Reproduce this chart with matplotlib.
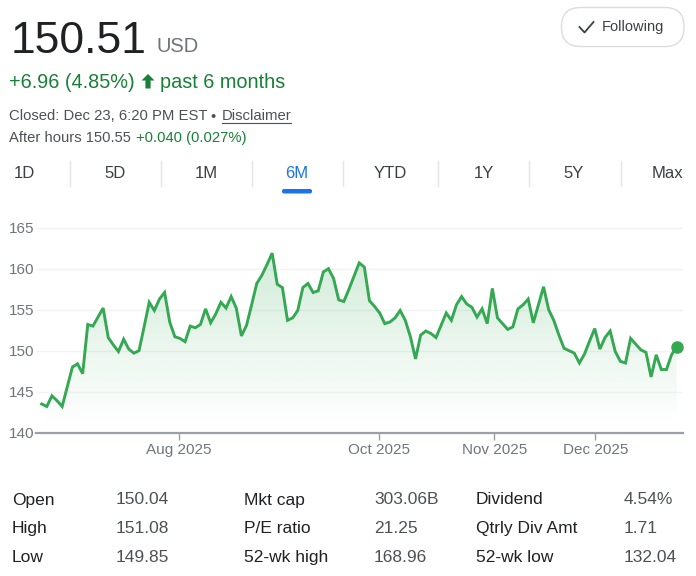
import numpy as np
import matplotlib
matplotlib.use('Agg')
import matplotlib.pyplot as plt
from matplotlib.patches import FancyBboxPatch, Polygon
from matplotlib.colors import LinearSegmentedColormap

plt.rcParams['font.family'] = ['Liberation Sans', 'DejaVu Sans']

# daily closes, Jun 23 -> Dec 23 2025
prices = [
    143.5, 143.2, 144.5, 143.9, 143.2, 145.6, 148.0, 148.4, 147.2, 153.2,
    153.0, 154.1, 155.2, 151.6, 150.7, 149.9, 151.4, 150.2, 149.7, 150.0,
    152.9, 155.9, 154.9, 156.3, 157.1, 153.5, 151.7, 151.5, 151.1, 153.0,
    152.8, 153.2, 155.1, 153.4, 154.5, 155.9, 155.2, 156.6, 155.2, 151.8,
    153.1, 155.6, 158.2, 159.2, 160.5, 161.9, 158.1, 157.7, 153.7, 154.0,
    154.9, 157.7, 158.2, 157.1, 157.3, 159.6, 160.0, 158.8, 156.2, 156.0,
    157.5, 159.1, 160.7, 160.2, 156.1, 155.4, 154.6, 153.3, 153.5, 154.0,
    154.9, 153.7, 151.7, 149.0, 151.9, 152.4, 152.1, 151.6, 153.1, 154.6,
    153.7, 155.6, 156.6, 155.7, 155.3, 154.1, 155.1, 153.3, 157.6, 154.0,
    153.3, 152.6, 152.9, 155.1, 155.6, 156.3, 153.4, 155.6, 157.8, 155.0,
    153.7, 151.9, 150.3, 150.0, 149.7, 148.5, 149.6, 151.2, 152.7, 150.2,
    151.6, 152.4, 149.9, 148.7, 148.5, 151.5, 150.8, 150.1, 149.8, 146.8,
    149.5, 147.7, 147.7, 149.5, 150.51,
]
tick_pos = [26.8, 65.9, 88.4, 108.1]
tick_labels = ['Aug 2025', 'Oct 2025', 'Nov 2025', 'Dec 2025']
y_ticks = [140, 145, 150, 155, 160, 165]

tabs = ['1D', '5D', '1M', '6M', 'YTD', '1Y', '5Y', 'Max']
active_tab = '6M'

stat_labels = [['Open', 'High', 'Low'],
               ['Mkt cap', 'P/E ratio', '52-wk high'],
               ['Dividend', 'Qtrly Div Amt', '52-wk low']]
stat_values = [['150.04', '151.08', '149.85'],
               ['303.06B', '21.25', '168.96'],
               ['4.54%', '1.71', '132.04']]

GREEN_TXT = '#188038'
LINE = '#34a853'
GREY = '#70757a'
DARK = '#202124'

W, H = 696, 576
fig = plt.figure(figsize=(W / 100, H / 100), dpi=100)

# overlay in pixel coordinates for the page furniture
ov = fig.add_axes([0, 0, 1, 1])
ov.set_xlim(0, W)
ov.set_ylim(H, 0)
ov.axis('off')

ov.text(11, 52.7, '150.51', fontsize=32, color=DARK, va='baseline')
ov.text(157, 52.5, 'USD', fontsize=14.5, color=GREY, va='baseline')
ov.text(9, 87.5, '+6.96 (4.85%)', fontsize=14.3, color=GREEN_TXT, va='baseline')
# up arrow
ov.add_patch(Polygon([[148, 74], [154.5, 80.5], [150.6, 80.5], [150.6, 88.5],
                      [145.4, 88.5], [145.4, 80.5], [141.5, 80.5]],
                     closed=True, color=GREEN_TXT, lw=0))
ov.text(160.5, 87.5, 'past 6 months', fontsize=14.3, color=GREEN_TXT, va='baseline')

ov.text(9, 120.5, 'Closed: Dec 23, 6:20 PM EST', fontsize=10.7,
        color='#4d5156', va='baseline')
ov.text(210.5, 120.5, '\u2022', fontsize=10.7, color='#4d5156', va='baseline')
ov.text(221.5, 120.5, 'Disclaimer', fontsize=10.7, color='#4d5156', va='baseline')
ov.plot([221.7, 290.7], [123, 123], color='#4d5156', lw=0.8)
ov.text(9, 142, 'After hours 150.55', fontsize=10.6, color='#4d5156', va='baseline')
ov.text(136.5, 142, '+0.040 (0.027%)', fontsize=10.6, color=GREEN_TXT, va='baseline')

# following button
ov.add_patch(FancyBboxPatch((561.5, 7.5), 122.5, 39,
                            boxstyle='round,pad=0,rounding_size=19',
                            fc='white', ec='#dadce0', lw=1))
ov.plot([579.5, 584.5, 593.5], [27, 32.5, 22], color='#3c4043', lw=1.3)
ov.text(601.5, 27, 'Following', fontsize=10.5, color='#3c4043', va='center')

# range tabs
tab_x = [24, 115, 206.5, 296.7, 390, 484, 574, 667]
for t, x in zip(tabs, tab_x):
    ov.text(x, 173.5, t, fontsize=12, ha='center', va='center',
            color='#1a73e8' if t == active_tab else '#3c4043')
for x in [69.5, 160.7, 251.7, 342.7, 438.3, 529.3, 620.7]:
    ov.plot([x, x], [161, 186], color='#e3e5e8', lw=1)
ov.add_patch(FancyBboxPatch((282, 189), 30, 4.5,
                            boxstyle='round,pad=0,rounding_size=2',
                            fc='#1a73e8', ec='none'))

# stats table
lab_x = [12, 244, 476]
val_x = [116, 374, 624]
row_y = [504.5, 533, 562]
for c in range(3):
    for r in range(3):
        ov.text(lab_x[c], row_y[r], stat_labels[c][r], fontsize=12.5,
                color=DARK, va='baseline')
        ov.text(val_x[c], row_y[r], stat_values[c][r], fontsize=12.5,
                color='#4d5156', va='baseline')

# price chart
y0_px, top_px = 432.7, 219.5
ax = fig.add_axes([36 / W, 1 - y0_px / H, (683.3 - 36) / W, (y0_px - top_px) / H])
ax.patch.set_alpha(0)
x = np.arange(len(prices))
ax.set_xlim(-1.11, len(prices) - 1 + 1.29)
ax.set_ylim(140, 166)

for yv in y_ticks[1:]:
    ax.axhline(yv, color='#f1f3f4', lw=1, zorder=0)

# gradient fill under the line
cmap = LinearSegmentedColormap.from_list(
    'g', [(0.2, 0.66, 0.33, 0.0), (0.2, 0.66, 0.33, 0.22)])
grad = np.linspace(0, 1, 256).reshape(-1, 1)
im = ax.imshow(grad, cmap=cmap, origin='lower', aspect='auto',
               extent=[x[0], x[-1], 141, max(prices)], zorder=1)
clip = Polygon(np.vstack([np.column_stack([x, prices]),
                          [[x[-1], 140], [x[0], 140]]]),
               closed=True, transform=ax.transData, fc='none', ec='none')
ax.add_patch(clip)
im.set_clip_path(clip)

ax.plot(x, prices, color=LINE, lw=2.1, solid_joinstyle='miter', zorder=3)
ax.plot(x[-1], prices[-1], 'o', color=LINE, ms=8, zorder=4)

for s in ['top', 'left', 'right']:
    ax.spines[s].set_visible(False)
ax.spines['bottom'].set_color('#9aa0a6')
ax.spines['bottom'].set_linewidth(1.6)
ax.set_yticks(y_ticks)
ax.set_yticklabels([str(v) for v in y_ticks])
ax.tick_params(axis='y', length=0, pad=1, labelsize=11, labelcolor=GREY)
ax.set_xticks(tick_pos)
ax.set_xticklabels(tick_labels)
ax.tick_params(axis='x', length=5, width=1, color='#9aa0a6', pad=2.5,
               labelsize=11, labelcolor=GREY)

fig.savefig('out.png', dpi=100)
